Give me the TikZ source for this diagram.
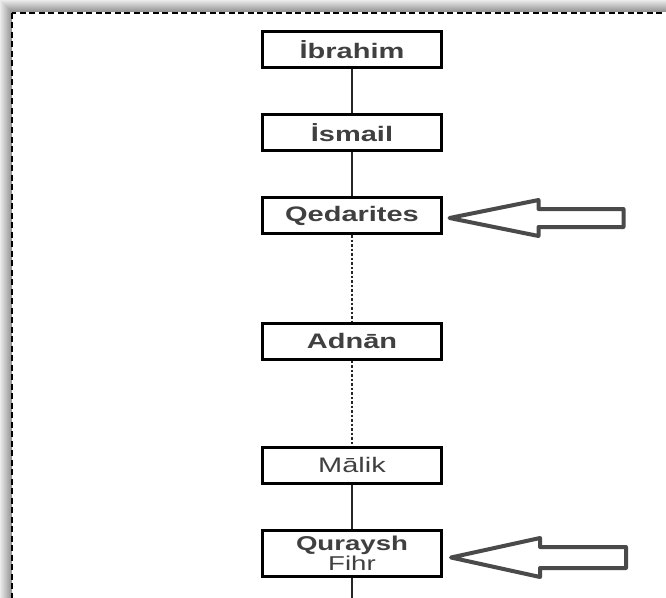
\documentclass[tikz,border=0pt]{standalone}
\usepackage{fontspec}
\newfontfamily\boxfont[FakeStretch=1.38]{Liberation Sans}
\definecolor{labelgray}{HTML}{404040}
\definecolor{arrowgray}{HTML}{4A4A4A}
\tikzset{
  name box/.style={
    rectangle, draw=black, line width=3bp, fill=white, text=labelgray,
    minimum width=179bp, minimum height=36bp, inner sep=0pt,
    font=\boxfont\fontsize{21bp}{22bp}\selectfont
  },
  bold name box/.style={
    name box, font=\boxfont\bfseries\fontsize{21bp}{22bp}\selectfont
  },
  double name box/.style={
    name box, minimum height=46bp, align=center,
    font=\boxfont\fontsize{20bp}{17bp}\selectfont
  },
  descent line/.style={draw=black!85, line width=1.2bp},
  gap line/.style={draw=black!85, line width=1.2bp, dash pattern=on 2.5bp off 2bp},
  hollow pointer/.style={
    draw=arrowgray, line width=4bp, fill=white, line join=round
  }
}

\begin{document}
\begin{tikzpicture}[x=1bp, y=-1bp]
\useasboundingbox (0,0) rectangle (666,598);
\clip (0,0) rectangle (666,598);

% frame with soft shadow
\foreach \k [evaluate=\k as \g using int(8+3*\k)] in {0,...,11}
  \draw[black!\g, line width=1bp] (\k+0.5,\k+0.5) rectangle (700,700);
\fill[white] (12,13) rectangle (700,700);
\draw[black, line width=2bp, dash pattern=on 6bp off 3.5bp] (12,13) rectangle (700,700);

% the line of names
\node[bold name box]   (ibr) at (352,50)    {İbrahim};
\node[bold name box]   (ism) at (352,133)   {İsmail};
\node[bold name box]   (qed) at (352,215.5) {Qedarites};
\node[bold name box]   (adn) at (352,341)   {Adnān};
\node[name box]        (mal) at (352,465)   {Mālik};
\node[double name box] (qur) at (352,553.5) {\textbf{Quraysh}\\Fihr};
\coordinate (qurEnd) at (352,600);

% links, dotted where generations are skipped
\draw[descent line] (ibr) -- (ism);
\draw[descent line] (ism) -- (qed);
\draw[gap line]     (qed) -- (adn);
\draw[gap line]     (adn) -- (mal);
\draw[descent line] (mal) -- (qur);
\draw[descent line] (qur) -- (qurEnd);

% hollow arrows pointing at Qedarites and Quraysh
\draw[hollow pointer] ([shift={(6.5,2.5)}]qed.east)
  -- ++(89,-18) -- ++(0,9) -- ++(85,0) -- ++(0,18) -- ++(-85,0) -- ++(0,9) -- cycle;
\draw[hollow pointer] ([shift={(8,4)}]qur.east)
  -- ++(89,-19.5) -- ++(0,9) -- ++(86,0) -- ++(0,21) -- ++(-86,0) -- ++(0,9) -- cycle;

\end{tikzpicture}
\end{document}
